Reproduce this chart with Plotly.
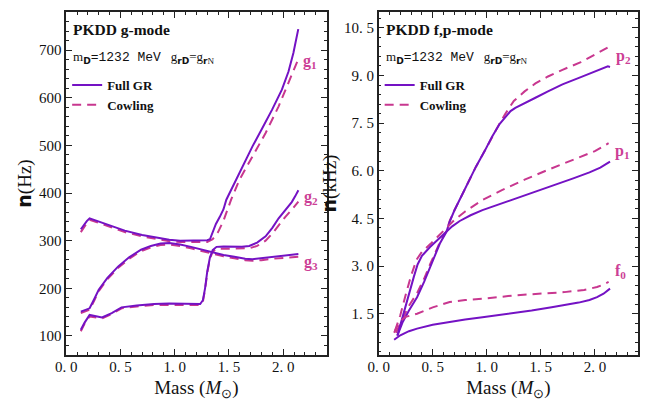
import plotly.graph_objects as go

# ---------------- Left panel: g-modes (Hz) ----------------
M_g1_gr = [0.135, 0.16, 0.19, 0.216, 0.3, 0.4, 0.54, 0.7, 0.85, 0.95, 1.05, 1.15, 1.25, 1.30, 1.325,
           1.35, 1.38, 1.416, 1.45, 1.476, 1.536, 1.597, 1.657, 1.717, 1.807, 1.898, 1.988, 2.049, 2.094, 2.124, 2.139]
g1_gr = [324, 333, 341, 347, 340, 332, 321, 312, 306, 302, 300, 300, 300, 301, 303,
         318, 335, 350, 366, 386, 414, 442, 470, 498, 536, 575, 617, 655, 694, 729, 744]
M_g1_cw = [0.135, 0.16, 0.19, 0.216, 0.3, 0.4, 0.54, 0.7, 0.85, 0.95, 1.05, 1.15, 1.25, 1.30, 1.35,
           1.40, 1.45, 1.52, 1.597, 1.75, 1.838, 1.958, 2.049, 2.109, 2.13]
g1_cw = [318, 328, 337, 344, 337, 329, 318, 309, 303, 299, 297, 297, 297, 297, 303,
         318, 342, 386, 428, 491, 526, 582, 631, 666, 676]

M_g2_gr = [0.135, 0.17, 0.216, 0.26, 0.33, 0.42, 0.51, 0.65, 0.81, 0.95, 1.1, 1.235, 1.26, 1.28, 1.30,
           1.325, 1.35, 1.386, 1.45, 1.536, 1.62, 1.687, 1.76, 1.838, 1.90, 1.958, 2.02, 2.079, 2.11, 2.14]
g2_gr = [113, 128, 144, 142, 139, 148, 160, 164, 167, 168, 168, 167, 175, 200, 235,
         265, 280, 287, 288, 288, 287, 289, 296, 309, 327, 347, 365, 381, 393, 406]
M_g2_cw = M_g2_gr
g2_cw = [110, 126, 141, 139, 137, 146, 158, 162, 165, 165, 165, 165, 172, 197, 232,
         262, 277, 283, 283, 283, 283, 284, 289, 300, 315, 333, 350, 365, 373, 382]

M_g3_gr = [0.135, 0.17, 0.216, 0.26, 0.30, 0.38, 0.48, 0.58, 0.69, 0.78, 0.87, 0.95, 1.05, 1.15, 1.25,
           1.35, 1.45, 1.55, 1.65, 1.717, 1.8, 1.9, 2.0, 2.08, 2.14]
g3_gr = [151, 154, 158, 178, 197, 222, 246, 265, 281, 289, 294, 295, 292, 287, 281,
         275, 270, 266, 262, 261, 263, 266, 269, 270, 272]
M_g3_cw = M_g3_gr
g3_cw = [148, 151, 155, 175, 194, 219, 243, 262, 278, 286, 291, 292, 289, 284, 278,
         272, 267, 263, 259, 258, 259, 262, 264, 265, 266]

# ---------------- Right panel: f, p-modes (kHz) ----------------
M_f0_gr = [0.143, 0.2, 0.28, 0.355, 0.5, 0.657, 0.8, 0.96, 1.2, 1.415, 1.6, 1.718, 1.85, 1.95, 2.02, 2.08, 2.14]
f0_gr = [0.68, 0.82, 0.95, 1.03, 1.15, 1.24, 1.32, 1.39, 1.49, 1.60, 1.70, 1.76, 1.85, 1.93, 2.02, 2.13, 2.29]
M_f0_cw = [0.143, 0.188, 0.25, 0.355, 0.5, 0.657, 0.8, 0.96, 1.264, 1.5, 1.718, 1.9, 2.02, 2.08, 2.127]
f0_cw = [0.90, 1.24, 1.40, 1.50, 1.70, 1.87, 1.93, 1.97, 2.08, 2.13, 2.18, 2.25, 2.34, 2.42, 2.50]

M_p1_gr = [0.173, 0.2, 0.234, 0.28, 0.325, 0.36, 0.40, 0.475, 0.566, 0.62, 0.68, 0.75, 0.85, 0.96, 1.08,
           1.2, 1.35, 1.5, 1.65, 1.8, 1.95, 2.05, 2.14]
p1_gr = [0.81, 1.15, 1.60, 2.15, 2.66, 3.05, 3.32, 3.60, 3.90, 4.08, 4.25, 4.42, 4.60, 4.76, 4.90,
         5.05, 5.22, 5.40, 5.58, 5.76, 5.95, 6.10, 6.29]
M_p1_cw = [0.15, 0.2, 0.25, 0.3, 0.35, 0.40, 0.48, 0.566, 0.62, 0.7, 0.8, 0.96, 1.14, 1.35, 1.566, 1.8, 2.0, 2.127]
p1_cw = [0.95, 1.45, 2.10, 2.70, 3.20, 3.45, 3.70, 4.00, 4.20, 4.45, 4.72, 5.08, 5.39, 5.72, 6.03, 6.35, 6.62, 6.87]

M_p2_gr = [0.173, 0.22, 0.28, 0.355, 0.42, 0.475, 0.53, 0.566, 0.627, 0.657, 0.70, 0.748, 0.82, 0.9, 0.98,
           1.05, 1.12, 1.173, 1.22, 1.264, 1.35, 1.45, 1.566, 1.7, 1.87, 2.0, 2.08, 2.12, 2.14]
p2_gr = [0.81, 1.22, 1.60, 2.02, 2.50, 2.97, 3.40, 3.71, 4.08, 4.40, 4.75, 5.08, 5.60, 6.13, 6.62,
         7.08, 7.48, 7.70, 7.88, 7.98, 8.12, 8.30, 8.50, 8.72, 8.95, 9.13, 9.24, 9.29, 9.27]
M_p2_cw = [0.16, 0.22, 0.28, 0.355, 0.42, 0.475, 0.53, 0.566, 0.627, 0.657, 0.70, 0.748, 0.82, 0.9, 0.98,
           1.05, 1.12, 1.173, 1.25, 1.35, 1.45, 1.566, 1.7, 1.87, 2.0, 2.14]
p2_cw = [0.90, 1.35, 1.75, 2.15, 2.60, 3.05, 3.45, 3.75, 4.10, 4.42, 4.75, 5.08, 5.60, 6.13, 6.62,
         7.08, 7.50, 7.80, 8.20, 8.50, 8.75, 8.97, 9.18, 9.42, 9.65, 9.92]

x_ticks = [0.0, 0.5, 1.0, 1.5, 2.0]
x_ticktext = ["0. 0", "0. 5", "1. 0", "1. 5", "2. 0"]
yL_ticks = [100, 200, 300, 400, 500, 600, 700]
yL_ticktext = ["100", "200", "300", "400", "500", "600", "700"]
yR_ticks = [1.5, 3.0, 4.5, 6.0, 7.5, 9.0, 10.5]
yR_ticktext = ["1. 5", "3. 0", "4. 5", "6. 0", "7. 5", "9. 0", "10. 5"]

GR_COLOR = "#7412c4"
CW_COLOR = "#c8378f"
LBL_COLOR = "#cc3f96"
SERIF = "Liberation Serif"

# the figure is drawn offset from the window's corner; compensate
OX, OY = 15, 8
W, H = 652 - OX, 401 - OY

def px(xp):
    return (xp - OX) / W

def py(yp):
    return 1 - (yp - OY) / H

fig = go.Figure()

def add_pair(Mg, vg, Mc, vc, xa, ya, leg, show):
    fig.add_trace(go.Scatter(x=Mc, y=vc, mode="lines", xaxis=xa, yaxis=ya, legend=leg,
                             line=dict(color=CW_COLOR, width=2, dash="9px,6px"),
                             name="Cowling", showlegend=False))
    fig.add_trace(go.Scatter(x=Mg, y=vg, mode="lines", xaxis=xa, yaxis=ya, legend=leg,
                             line=dict(color=GR_COLOR, width=2),
                             name="Full GR", showlegend=show, legendrank=1))
    if show:
        fig.add_trace(go.Scatter(x=[None], y=[None], mode="lines", xaxis=xa, yaxis=ya, legend=leg,
                                 line=dict(color=CW_COLOR, width=2, dash="9px,6px"),
                                 name="Cowling", showlegend=True, legendrank=2))

add_pair(M_g1_gr, g1_gr, M_g1_cw, g1_cw, "x", "y", "legend", True)
add_pair(M_g2_gr, g2_gr, M_g2_cw, g2_cw, "x", "y", "legend", False)
add_pair(M_g3_gr, g3_gr, M_g3_cw, g3_cw, "x", "y", "legend", False)
add_pair(M_p2_gr, p2_gr, M_p2_cw, p2_cw, "x2", "y2", "legend2", True)
add_pair(M_p1_gr, p1_gr, M_p1_cw, p1_cw, "x2", "y2", "legend2", False)
add_pair(M_f0_gr, f0_gr, M_f0_cw, f0_cw, "x2", "y2", "legend2", False)

axis_common = dict(showline=True, linecolor="#222", linewidth=1.5, mirror="ticks",
                   ticks="inside", ticklen=6, tickwidth=1.2, tickcolor="#222",
                   showgrid=False, zeroline=False,
                   tickfont=dict(family=SERIF, size=15, color="#111"))
xminor = dict(dtick=0.1, ticks="inside", ticklen=3, tickwidth=1, tickcolor="#222", showgrid=False)
xtitle = dict(text="Mass (<i>M</i><sub>⊙</sub>)", font=dict(family=SERIF, size=19, color="#111"), standoff=8)

ydom = [py(355), py(12)]

fig.update_layout(
    width=W, height=H, margin=dict(l=0, r=0, t=0, b=0),
    paper_bgcolor="white", plot_bgcolor="white",
    xaxis=dict(domain=[px(63), px(328)], range=[0, 2.4], tickvals=x_ticks, ticktext=x_ticktext,
               minor=xminor, title=xtitle, anchor="y", ticklabelstandoff=-3, **axis_common),
    yaxis=dict(domain=ydom, range=[60, 780], tickvals=yL_ticks, ticktext=yL_ticktext,
               minor=dict(dtick=20, ticks="inside", ticklen=3, tickwidth=1, tickcolor="#222", showgrid=False),
               title=dict(text="<span style='font-family:DejaVu Sans'><b>n</b></span>(Hz)",
                          font=dict(family=SERIF, size=19, color="#111"), standoff=2),
               anchor="x", **axis_common),
    xaxis2=dict(domain=[px(381), px(645)], range=[0, 2.4], tickvals=x_ticks, ticktext=x_ticktext,
                minor=xminor, title=xtitle, anchor="y2", ticklabelstandoff=-3, **axis_common),
    yaxis2=dict(domain=ydom, range=[0.2, 11.0], tickvals=yR_ticks, ticktext=yR_ticktext,
                minor=dict(dtick=0.3, tick0=0, ticks="inside", ticklen=3, tickwidth=1, tickcolor="#222", showgrid=False),
                title=dict(text="<span style='font-family:DejaVu Sans'><b>n</b></span>(kHz)",
                           font=dict(family=SERIF, size=19, color="#111"), standoff=2),
                anchor="x2", **axis_common),
    legend=dict(x=px(64), y=py(70), xanchor="left", yanchor="top", bgcolor="rgba(0,0,0,0)",
                font=dict(family=SERIF, size=13, color="#111", weight="bold"),
                itemwidth=30, tracegroupgap=0, traceorder="normal"),
    legend2=dict(x=px(382), y=py(70), xanchor="left", yanchor="top", bgcolor="rgba(0,0,0,0)",
                 font=dict(family=SERIF, size=13, color="#111", weight="bold"),
                 itemwidth=30, tracegroupgap=0, traceorder="normal"),
)

def title_annots(xref_dom, text):
    fig.add_annotation(xref=xref_dom, yref="y domain", x=0.02, y=0.948, xanchor="left", yanchor="middle",
                       text="<b>" + text + "</b>", showarrow=False,
                       font=dict(family=SERIF, size=15.5, color="#111"))
    fig.add_annotation(xref=xref_dom, yref="y domain", x=0.02, y=0.868, xanchor="left", yanchor="middle",
                       text="m<sub><span style='font-family:DejaVu Sans'><b>D</b></span></sub>"
                            "<span style='font-family:Liberation Mono'>=1232 MeV</span>"
                            "&nbsp;&nbsp;&nbsp;g<sub><span style='font-family:DejaVu Sans'><b>rD</b></span></sub>"
                            "=g<sub><span style='font-family:DejaVu Sans'><b>r</b></span>N</sub>",
                       showarrow=False, font=dict(family=SERIF, size=13, color="#111"))

title_annots("x domain", "PKDD g-mode")
title_annots("x2 domain", "PKDD f,p-mode")

def mode_label(Mc, vc, xa, ya, txt, yshift):
    fig.add_annotation(xref=xa, yref=ya, x=Mc[-1], y=vc[-1], xanchor="left", yanchor="middle",
                       xshift=4, yshift=yshift, text="<b>" + txt + "</b>", showarrow=False,
                       font=dict(family=SERIF, size=16, color=LBL_COLOR))

mode_label(M_g1_cw, g1_cw, "x", "y", "g<sub>1</sub>", 0)
mode_label(M_g2_cw, g2_cw, "x", "y", "g<sub>2</sub>", 4)
mode_label(M_g3_cw, g3_cw, "x", "y", "g<sub>3</sub>", -6)
mode_label(M_p2_cw, p2_cw, "x2", "y2", "p<sub>2</sub>", -10)
mode_label(M_p1_cw, p1_cw, "x2", "y2", "p<sub>1</sub>", -8)
mode_label(M_f0_cw, f0_cw, "x2", "y2", "f<sub>0</sub>", 10)

fig.write_html("out.html")
